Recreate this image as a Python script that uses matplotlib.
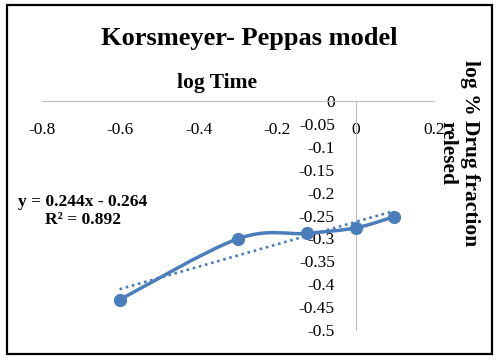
import numpy as np
import matplotlib
matplotlib.use("Agg")
import matplotlib.pyplot as plt
from matplotlib.patches import Rectangle, PathPatch
from matplotlib.path import Path

plt.rcParams["font.family"] = ["Liberation Serif", "DejaVu Serif"]
plt.rcParams["axes.unicode_minus"] = False

# ---- data ----
log_time = [-0.602, -0.301, -0.125, 0.0, 0.097]
log_release = [-0.434, -0.301, -0.289, -0.277, -0.253]
trend_slope = 0.244
trend_intercept = -0.264
trend_r2 = 0.892
x_ticks = [-0.8, -0.6, -0.4, -0.2, 0.0, 0.2]
x_tick_labels = ["-0.8", "-0.6", "-0.4", "-0.2", "0", "0.2"]
y_ticks = [0, -0.05, -0.1, -0.15, -0.2, -0.25, -0.3, -0.35, -0.4, -0.45, -0.5]
y_tick_labels = ["0", "-0.05", "-0.1", "-0.15", "-0.2", "-0.25", "-0.3",
                 "-0.35", "-0.4", "-0.45", "-0.5"]

W, H = 496, 361
fig = plt.figure(figsize=(W / 100, H / 100), dpi=100)
fig.patch.set_facecolor("white")


def fx(px):
    return px / W


def fy(py):
    return 1 - py / H


# outer border
fig.add_artist(Rectangle((fx(7), fy(354)), fx(492) - fx(7), fy(5) - fy(354),
                         transform=fig.transFigure, fill=False,
                         edgecolor="black", linewidth=1.6))

ax = fig.add_axes([fx(42), fy(330), fx(434) - fx(42), fy(101) - fy(330)])
ax.set_facecolor("none")
ax.set_xlim(-0.8, 0.2)
ax.set_ylim(-0.5, 0)

for s in ["top", "right"]:
    ax.spines[s].set_visible(False)
ax.spines["left"].set_position(("data", 0))
ax.spines["bottom"].set_position(("data", 0))
for s in ["left", "bottom"]:
    ax.spines[s].set_color("#BFBFBF")
    ax.spines[s].set_linewidth(0.8)

ax.set_xticks(x_ticks)
ax.set_xticklabels(x_tick_labels)
ax.set_yticks(y_ticks)
ax.set_yticklabels(y_tick_labels)
ax.tick_params(axis="x", length=0, pad=15, labelsize=12.5)
ax.tick_params(axis="y", length=0, pad=15, labelsize=12.5)

color = "#4A7EBB"

# smooth line (Catmull-Rom style Bezier, like Excel's smoothed line)
pts = np.column_stack([log_time, log_release])
n = len(pts)
verts = [tuple(pts[0])]
codes = [Path.MOVETO]
for i in range(n - 1):
    p0 = pts[max(i - 1, 0)]
    p1 = pts[i]
    p2 = pts[i + 1]
    p3 = pts[min(i + 2, n - 1)]
    c1 = p1 + (p2 - p0) / 6.0
    c2 = p2 - (p3 - p1) / 6.0
    verts += [tuple(c1), tuple(c2), tuple(p2)]
    codes += [Path.CURVE4, Path.CURVE4, Path.CURVE4]
ax.add_patch(PathPatch(Path(verts, codes), fill=False, edgecolor=color,
                       linewidth=2.5, capstyle="round", joinstyle="round",
                       zorder=3))
ax.plot(log_time, log_release, linestyle="none", marker="o", markersize=8.5,
        color=color, zorder=4)

# linear trendline
tx = np.array([min(log_time), max(log_time)])
ty = trend_slope * tx + trend_intercept
ax.plot(tx, ty, color=color, linewidth=1.9, linestyle=(0, (1, 1.4)), zorder=2)

# texts
fig.text(fx(249), fy(38), "Korsmeyer- Peppas model", ha="center", va="center",
         fontsize=19, fontweight="bold")
fig.text(fx(217), fy(83), "log Time", ha="center", va="center",
         fontsize=15.5, fontweight="bold")
fig.text(fx(459), fy(153), "log % Drug fraction\nrelesed", ha="center",
         va="center", rotation=-90, fontsize=15.5, fontweight="bold",
         multialignment="center", linespacing=1.15)
fig.text(fx(83), fy(211), "y = %.3fx - %.3f\nR\u00b2 = %.3f"
         % (trend_slope, -trend_intercept, trend_r2),
         ha="center", va="center", fontsize=12.5, fontweight="bold",
         multialignment="center", linespacing=1.2)

fig.savefig("out.png", dpi=100)
